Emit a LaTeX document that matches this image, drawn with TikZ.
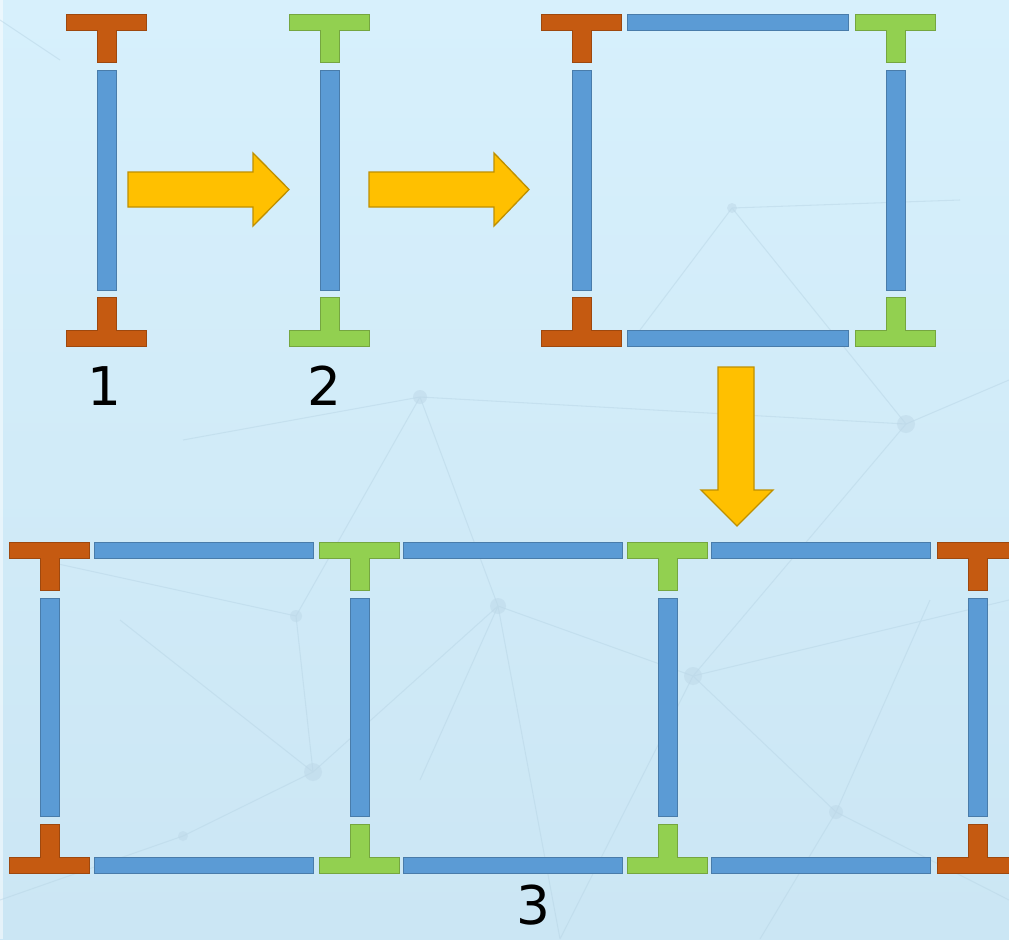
\documentclass[tikz,border=0pt]{standalone}
\usepackage{fontspec}
\newfontfamily\digitfont{DejaVu Sans}
\definecolor{bgA}{HTML}{D7F0FC}
\definecolor{bgB}{HTML}{CBE6F4}
\definecolor{netline}{HTML}{B9D6E6}
\definecolor{netdot}{HTML}{BDD8E8}
\definecolor{tOrange}{HTML}{C55A11}
\definecolor{tGreen}{HTML}{92D050}
\definecolor{tBlue}{HTML}{5B9BD5}
\definecolor{aFill}{HTML}{FFC000}
\definecolor{aEdge}{HTML}{BF9000}
\tikzset{
  orangeT/.style={fill=tOrange,draw=tOrange!80!black,line width=0.4pt},
  greenT/.style={fill=tGreen,draw=tGreen!80!black,line width=0.4pt},
  beam/.style={fill=tBlue,draw=tBlue!80!black,line width=0.4pt},
  yarrow/.style={fill=aFill,draw=aEdge,line width=1pt,line join=miter},
  net/.style={draw=netline,line width=0.8pt},
  netdot/.style={fill=netdot},
  numlabel/.style={font=\digitfont\fontsize{40}{40}\selectfont,text=black,inner sep=0pt,text depth=0pt}
}
% T with bar on top: #1 x-left, #2 y-top, #3 style
\newcommand\myTtop[3]{\path[#3] (#1,#2) -- ++(80,0) -- ++(0,16) -- ++(-30,0) -- ++(0,32) -- ++(-19,0) -- ++(0,-32) -- ++(-31,0) -- cycle;}
% T with bar at bottom: #1 x-left, #2 y-bottom
\newcommand\myTbot[3]{\path[#3] (#1,#2) -- ++(80,0) -- ++(0,-16) -- ++(-30,0) -- ++(0,-33) -- ++(-19,0) -- ++(0,33) -- ++(-31,0) -- cycle;}
\begin{document}
\begin{tikzpicture}[x=0.75pt,y=-0.75pt]
\useasboundingbox (0,0) rectangle (1009,939);
\shade[top color=bgA,bottom color=bgB] (0,0) rectangle (1009,939);
\fill[white,opacity=0.5] (0,0) rectangle (3,939);
% faint network background
\begin{scope}[opacity=0.5]
\draw[net] (420,397) -- (183,440) (420,397) -- (906,424) (420,397) -- (498,606) (420,397) -- (296,616)
  (498,606) -- (693,676) (498,606) -- (313,772) (498,606) -- (560,939) (498,606) -- (420,780)
  (693,676) -- (836,812) (693,676) -- (906,424) (693,676) -- (1009,600) (693,676) -- (560,939)
  (313,772) -- (183,836) (313,772) -- (296,616) (313,772) -- (120,620) (183,836) -- (0,900)
  (836,812) -- (1009,900) (836,812) -- (760,939) (906,424) -- (1009,380) (732,208) -- (906,424)
  (732,208) -- (960,200) (732,208) -- (640,330) (296,616) -- (40,560) (836,812) -- (930,600)
  (0,20) -- (60,60);
\foreach \px/\py/\r in {420/397/7, 906/424/9, 498/606/8, 693/676/9, 313/772/9, 836/812/7, 296/616/6, 183/836/5, 732/208/5}
  {\fill[netdot] (\px,\py) circle[radius=\r];}
\end{scope}
% ---- piece 1
\myTtop{66}{14}{orangeT}
\path[beam] (97,70) rectangle (116,290);
\myTbot{66}{346}{orangeT}
\node[numlabel] (n1) at (104,386) {1};
% ---- piece 2
\myTtop{289}{14}{greenT}
\path[beam] (320,70) rectangle (339,290);
\myTbot{289}{346}{greenT}
\node[numlabel] (n2) at (324,386) {2};
% ---- top-right frame
\myTtop{541}{14}{orangeT}
\path[beam] (572,70) rectangle (591,290);
\myTbot{541}{346}{orangeT}
\myTtop{855}{14}{greenT}
\path[beam] (886,70) rectangle (905,290);
\myTbot{855}{346}{greenT}
\path[beam] (627,14) rectangle (848,30);
\path[beam] (627,330) rectangle (848,346);
% ---- arrows
\path[yarrow] (128,172) -- (253,172) -- (253,153) -- (289,189.5) -- (253,226) -- (253,207) -- (128,207) -- cycle;
\path[yarrow] (369,172) -- (494,172) -- (494,153) -- (529,189.5) -- (494,226) -- (494,207) -- (369,207) -- cycle;
\path[yarrow] (718,367) -- (754,367) -- (754,490) -- (773,490) -- (737,526) -- (701,490) -- (718,490) -- cycle;
% ---- bottom row
\myTtop{9}{542}{orangeT}
\myTtop{319}{542}{greenT}
\myTtop{627}{542}{greenT}
\myTtop{937}{542}{orangeT}
\myTbot{9}{873}{orangeT}
\myTbot{319}{873}{greenT}
\myTbot{627}{873}{greenT}
\myTbot{937}{873}{orangeT}
\foreach \x in {40,350,658,968} {\path[beam] (\x,598) rectangle ++(19,218);}
\foreach \x in {94,403,711} {
  \path[beam] (\x,542) rectangle ++(219,16);
  \path[beam] (\x,857) rectangle ++(219,16);
}
\node[numlabel] (n3) at (533,905) {3};
\end{tikzpicture}
\end{document}
